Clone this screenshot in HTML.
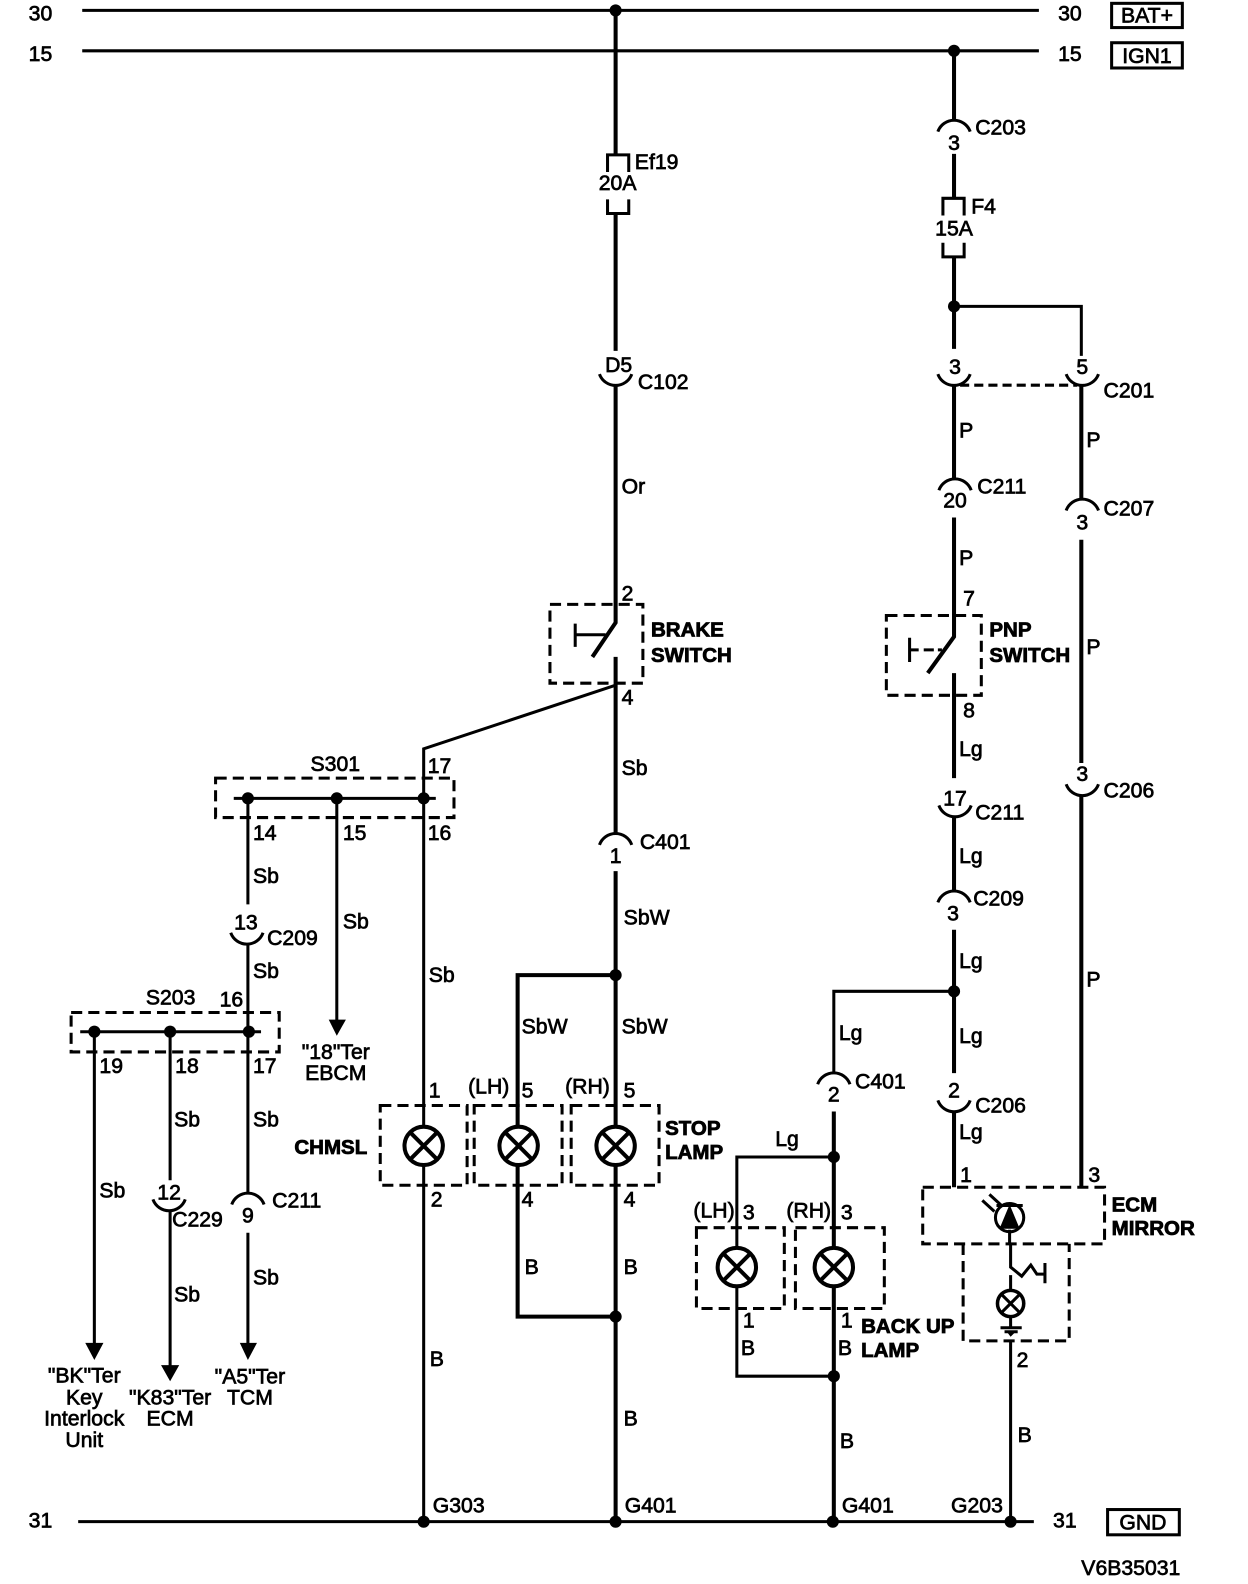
<!DOCTYPE html>
<html><head><meta charset="utf-8"><style>
html,body{margin:0;padding:0;background:#fff}
svg{display:block}
text{font-family:"Liberation Sans",sans-serif;font-size:21px;fill:#000;stroke:#000;stroke-width:.7}
.b{font-weight:bold;font-size:20.3px;stroke-width:.8}
.m{text-anchor:middle}
.w{fill:none;stroke:#000;stroke-width:4}
.t{fill:none;stroke:#000;stroke-width:3}
.a{fill:none;stroke:#000;stroke-width:3}
.d{fill:none;stroke:#000;stroke-width:3;stroke-dasharray:11 6}
.f{fill:#000;stroke:none}
</style></head><body>
<svg xmlns="http://www.w3.org/2000/svg" width="1248" height="1584" viewBox="0 0 1235 1568">
<g transform="translate(0.2,0.3)">
<!-- buses -->
<path class="t" d="M81 10H1028M81 50H1028M77 1506H1023"/>
<circle class="f" cx="609" cy="10" r="6"/><circle class="f" cx="944" cy="50" r="6"/>
<circle class="f" cx="419" cy="1506" r="6"/><circle class="f" cx="609" cy="1506" r="6"/><circle class="f" cx="824" cy="1506" r="6"/><circle class="f" cx="1000" cy="1506" r="6"/>
<text x="28" y="20">30</text><text x="28" y="60">15</text><text x="1047" y="20">30</text><text x="1047" y="60">15</text><text x="28" y="1512">31</text><text x="1042" y="1512">31</text>
<rect class="a" x="1100" y="3" width="70" height="24"/><rect class="a" x="1100" y="42" width="70" height="25"/><rect class="a" x="1096" y="1494" width="71" height="25"/>
<text class="m" x="1135" y="22">BAT+</text><text class="m" x="1135" y="62">IGN1</text><text class="m" x="1131" y="1514">GND</text>
<text x="1070" y="1559">V6B35031</text>

<!-- center column -->
<path class="w" d="M609 10V153M609 211V347M609 381V616L586 650M609 650V825M609 862V1506"/>
<path class="a" d="M601 170V153H622V170M601 197V211H622V197"/>
<text x="628" y="167">Ef19</text><text class="m" x="611" y="188">20A</text>
<path class="a" d="M593 370A17 17 0 0 0 625 370"/><text class="m" x="612" y="368">D5</text><text x="631" y="385">C102</text>
<text x="615" y="488">Or</text><text x="615" y="594">2</text>
<rect class="d" x="544" y="598" width="92" height="78"/>
<path class="a" d="M569 617V640M569 628H599"/>
<text class="b" x="644" y="630">BRAKE</text><text class="b" x="644" y="655">SWITCH</text>
<path class="t" d="M609 678L419 741V1506"/>
<text x="615" y="697">4</text><text x="615" y="767">Sb</text>
<path class="a" d="M593 836A17 17 0 0 1 625 836"/><text class="m" x="609" y="854">1</text><text x="633" y="840">C401</text>
<text x="617" y="915">SbW</text>
<path class="w" d="M609 965H512V1303H609"/>
<circle class="f" cx="609" cy="965" r="6"/><circle class="f" cx="609" cy="1303" r="6"/>
<text x="516" y="1023">SbW</text><text x="615" y="1023">SbW</text>

<!-- lamps center -->
<rect class="d" x="376" y="1094" width="86" height="79"/><rect class="d" x="469" y="1094" width="87" height="79"/><rect class="d" x="565" y="1094" width="87" height="79"/>
<g fill="#fff" stroke="#000" stroke-width="4">
<circle cx="419" cy="1134" r="19"/><path d="M405 1120L433 1148M433 1120L405 1148"/>
<circle cx="513" cy="1134" r="19"/><path d="M499 1120L527 1148M527 1120L499 1148"/>
<circle cx="609" cy="1134" r="19"/><path d="M595 1120L623 1148M623 1120L595 1148"/>
</g>
<text x="424" y="1086">1</text><text x="463" y="1082">(LH)</text><text x="516" y="1086">5</text><text x="559" y="1082">(RH)</text><text x="617" y="1086">5</text>
<text x="426" y="1194">2</text><text x="516" y="1194">4</text><text x="617" y="1194">4</text>
<text class="b" x="291" y="1142">CHMSL</text><text class="b" x="658" y="1123">STOP</text><text class="b" x="658" y="1147">LAMP</text>
<text x="519" y="1261">B</text><text x="617" y="1261">B</text><text x="425" y="1352">B</text><text x="617" y="1411">B</text><text x="424" y="972">Sb</text>
<text x="428" y="1497">G303</text><text x="618" y="1497">G401</text><text x="833" y="1497">G401</text><text x="941" y="1497">G203</text>

<!-- S301 -->
<rect class="d" x="213" y="770" width="236" height="39"/>
<path class="t" d="M231 790H431"/>
<circle class="f" cx="245" cy="790" r="6"/><circle class="f" cx="333" cy="790" r="6"/><circle class="f" cx="419" cy="790" r="6"/>
<text x="307" y="763">S301</text><text x="423" y="765">17</text><text x="250" y="831">14</text><text x="339" y="831">15</text><text x="423" y="831">16</text>
<path class="t" d="M245 790V895M245 934V1181M245 1220V1332M333 790V1010"/>
<path class="a" d="M228 923A17 17 0 0 0 260 923"/>
<text class="m" x="243" y="920">13</text><text x="264" y="935">C209</text>
<text x="250" y="874">Sb</text><text x="250" y="968">Sb</text><text x="339" y="919">Sb</text>
<path class="f" d="M325 1009H342L333 1025Z"/>
<text class="m" x="332" y="1048">"18"Ter</text><text class="m" x="332" y="1069">EBCM</text>

<!-- S203 -->
<rect class="d" x="70" y="1002" width="206" height="39"/>
<path class="t" d="M79 1021H258"/>
<circle class="f" cx="93" cy="1021" r="6"/><circle class="f" cx="168" cy="1021" r="6"/><circle class="f" cx="246" cy="1021" r="6"/>
<text x="144" y="994">S203</text><text x="217" y="996">16</text><text x="98" y="1062">19</text><text x="173" y="1062">18</text><text x="250" y="1062">17</text>
<path class="t" d="M93 1021V1332M168 1021V1168M168 1198V1352"/>
<path class="a" d="M151 1187A17 17 0 0 0 183 1187M229 1192A17 17 0 0 1 261 1192"/>
<text class="m" x="167" y="1187">12</text><text x="170" y="1214">C229</text><text class="m" x="245" y="1210">9</text><text x="269" y="1195">C211</text>
<text x="98" y="1185">Sb</text><text x="172" y="1115">Sb</text><text x="250" y="1115">Sb</text><text x="172" y="1288">Sb</text><text x="250" y="1271">Sb</text>
<path class="f" d="M84 1329H102L93 1346ZM159 1351H177L168 1367ZM237 1329H254L245 1346Z"/>
<text class="m" x="83" y="1368">"BK"Ter</text><text class="m" x="83" y="1390">Key</text><text class="m" x="83" y="1411">Interlock</text><text class="m" x="83" y="1432">Unit</text>
<text class="m" x="168" y="1390">"K83"Ter</text><text class="m" x="168" y="1411">ECM</text>
<text class="m" x="247" y="1369">"A5"Ter</text><text class="m" x="247" y="1390">TCM</text>

<!-- right column 944 -->
<path class="w" d="M944 50V119M944 152V196M944 254V345M944 381V474M944 512V630L918 666M944 666V770M944 808V882M944 920V1062M944 1100V1175"/>
<path class="a" d="M928 130A17 17 0 0 1 960 130"/><text class="m" x="944" y="148">3</text><text x="965" y="133">C203</text>
<path class="a" d="M933 213V196H954V213M933 240V254H954V240"/><text x="961" y="211">F4</text><text class="m" x="944" y="233">15A</text>
<circle class="f" cx="944" cy="303" r="6"/>
<path class="t" d="M944 303H1070V352"/>
<text class="m" x="945" y="370">3</text><text class="m" x="1071" y="370">5</text>
<path class="a" d="M928 370A17 17 0 0 0 960 370M1055 370A17 17 0 0 0 1087 370"/>
<path class="a" stroke-dasharray="9 5" d="M950 381H1066"/>
<text x="1092" y="393">C201</text>
<text x="949" y="433">P</text><text x="1075" y="442">P</text>
<path class="a" d="M929 485A17 17 0 0 1 961 485"/><text class="m" x="945" y="502">20</text><text x="967" y="488">C211</text>
<text x="949" y="559">P</text><text x="953" y="599">7</text>
<rect class="d" x="877" y="609" width="94" height="79"/>
<path class="a" d="M900 631V655M900 643H909M914 643H924M928 643H932"/>
<text class="b" x="979" y="630">PNP</text><text class="b" x="979" y="655">SWITCH</text>
<text x="953" y="710">8</text><text x="949" y="748">Lg</text>
<path class="a" d="M929 797A17 17 0 0 0 961 797"/><text class="m" x="945" y="797">17</text><text x="965" y="811">C211</text>
<text x="949" y="854">Lg</text>
<path class="a" d="M928 893A17 17 0 0 1 960 893"/><text class="m" x="943" y="911">3</text><text x="963" y="896">C209</text>
<text x="949" y="958">Lg</text><text x="949" y="1032">Lg</text>
<circle class="f" cx="944" cy="981" r="6"/>
<path class="t" d="M944 981H825V1062"/>
<path class="a" d="M928 1089A17 17 0 0 0 960 1089"/><text class="m" x="944" y="1086">2</text><text x="965" y="1101">C206</text>
<text x="949" y="1127">Lg</text><text x="950" y="1170">1</text><text x="1077" y="1170">3</text>

<!-- right 1070 -->
<path class="w" d="M1070 381V494M1070 534V755M1070 787V1175"/>
<path class="a" d="M1055 505A17 17 0 0 1 1087 505"/><text class="m" x="1071" y="524">3</text><text x="1092" y="510">C207</text>
<text x="1075" y="647">P</text><text class="m" x="1071" y="773">3</text>
<path class="a" d="M1055 776A17 17 0 0 0 1087 776"/><text x="1092" y="789">C206</text>
<text x="1075" y="976">P</text>

<!-- ECM mirror -->
<path class="d" d="M913 1175H1093V1231H913Z"/>
<path class="d" d="M953 1231V1327H1058V1231"/>
<circle cx="999" cy="1205" r="14" fill="#fff" stroke="#000" stroke-width="3"/>
<path class="f" d="M999 1192L1009 1216H989Z"/>
<path class="a" stroke-width="2.5" d="M986 1193H1012M999 1217V1231M972 1188L984 1199M979 1182L991 1193"/>
<path class="t" d="M1000 1231V1254L1011 1263L1020 1252L1026 1261H1034M1034 1250V1270M1000 1262V1277"/>
<circle cx="1000" cy="1290" r="13" fill="#fff" stroke="#000" stroke-width="3.5"/>
<path class="a" d="M991 1281L1009 1299M1009 1281L991 1299M1000 1303V1314M990 1314H1011M994 1318H1007"/>
<path class="f" d="M997 1319H1004L1000 1323Z"/>
<path class="t" d="M1000 1327V1506"/>
<text class="b" x="1100" y="1199">ECM</text><text class="b" x="1100" y="1222">MIRROR</text>
<text x="1006" y="1353">2</text><text x="1007" y="1427">B</text>

<!-- back up -->
<path class="w" d="M825 1100V1506"/>
<path class="a" d="M809 1073A17 17 0 0 1 841 1073"/><text class="m" x="825" y="1090">2</text><text x="846" y="1077">C401</text>
<text x="830" y="1029">Lg</text>
<path class="t" d="M825 1145H729V1362H825"/>
<circle class="f" cx="825" cy="1145" r="6"/><circle class="f" cx="825" cy="1362" r="6"/>
<text x="767" y="1134">Lg</text>
<rect class="d" x="689" y="1215" width="87" height="80"/><rect class="d" x="787" y="1215" width="88" height="80"/>
<g fill="#fff" stroke="#000" stroke-width="4">
<circle cx="729" cy="1254" r="19"/><path d="M715 1240L743 1268M743 1240L715 1268"/>
<circle cx="825" cy="1254" r="19"/><path d="M811 1240L839 1268M839 1240L811 1268"/>
</g>
<text x="686" y="1205">(LH)</text><text x="735" y="1207">3</text><text x="778" y="1205">(RH)</text><text x="832" y="1207">3</text>
<text x="735" y="1314">1</text><text x="832" y="1314">1</text><text x="733" y="1341">B</text><text x="829" y="1341">B</text><text x="831" y="1433">B</text>
<text class="b" x="852" y="1319">BACK UP</text><text class="b" x="852" y="1343">LAMP</text>
</g>
</svg>
</body></html>
